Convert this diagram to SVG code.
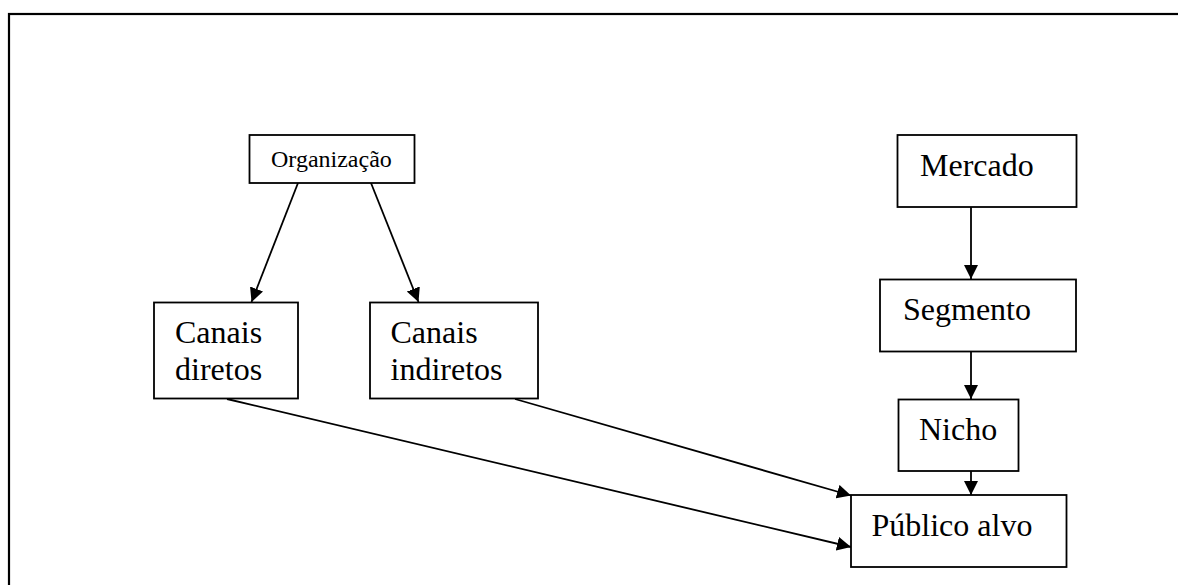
<svg xmlns="http://www.w3.org/2000/svg" width="1178" height="585" viewBox="0 0 1178 585">
  <style>
    .box { fill: #ffffff; stroke: #000000; stroke-width: 1.8; }
    .lbl { font-family: "Liberation Serif", "Times New Roman", "DejaVu Serif", serif; font-size: 32px; fill: #000000; }
    .small { font-size: 24px; }
    .edge { fill: none; stroke: #000000; stroke-width: 1.8; marker-end: url(#arrow); }
  </style>
  <defs>
    <marker id="arrow" markerUnits="userSpaceOnUse" markerWidth="15" markerHeight="15" refX="14" refY="7" orient="auto">
      <path d="M0,0 L14,7 L0,14 Z" fill="#000000"/>
    </marker>
  </defs>

  <rect width="1178" height="585" fill="#ffffff"/>
  <!-- outer frame, running off the right and bottom edges -->
  <rect x="9" y="14" width="1200" height="620" fill="none" stroke="#000000" stroke-width="2.2"/>

  <g id="connectors">
    <line class="edge" x1="298" y1="183" x2="251.5" y2="302"/>
    <line class="edge" x1="371" y1="183" x2="418.5" y2="302"/>
    <line class="edge" x1="971" y1="207" x2="971" y2="279"/>
    <line class="edge" x1="971" y1="352" x2="971" y2="399"/>
    <line class="edge" x1="971" y1="471" x2="971" y2="495"/>
    <line class="edge" x1="515" y1="399" x2="851" y2="495.5"/>
    <line class="edge" x1="227" y1="399" x2="851" y2="547"/>
  </g>

  <g id="organizacao">
    <rect class="box" x="249.5" y="135" width="165" height="48"/>
    <text class="lbl small" x="271" y="167">Organização</text>
  </g>

  <g id="canais-diretos">
    <rect class="box" x="154" y="302.5" width="144" height="96"/>
    <text class="lbl" x="175" y="343">Canais</text>
    <text class="lbl" x="175" y="380">diretos</text>
  </g>

  <g id="canais-indiretos">
    <rect class="box" x="370" y="302.5" width="168" height="96"/>
    <text class="lbl" x="390.5" y="343">Canais</text>
    <text class="lbl" x="390.5" y="380">indiretos</text>
  </g>

  <g id="mercado">
    <rect class="box" x="897.5" y="135" width="179" height="72"/>
    <text class="lbl" x="920" y="175.5">Mercado</text>
  </g>

  <g id="segmento">
    <rect class="box" x="880" y="279.5" width="196" height="72"/>
    <text class="lbl" x="903" y="319.5">Segmento</text>
  </g>

  <g id="nicho">
    <rect class="box" x="898.5" y="399.5" width="120" height="71.5"/>
    <text class="lbl" x="919" y="440">Nicho</text>
  </g>

  <g id="publico-alvo">
    <rect class="box" x="851" y="495" width="215.5" height="72"/>
    <text class="lbl" x="871.5" y="535.5">Público alvo</text>
  </g>
</svg>
